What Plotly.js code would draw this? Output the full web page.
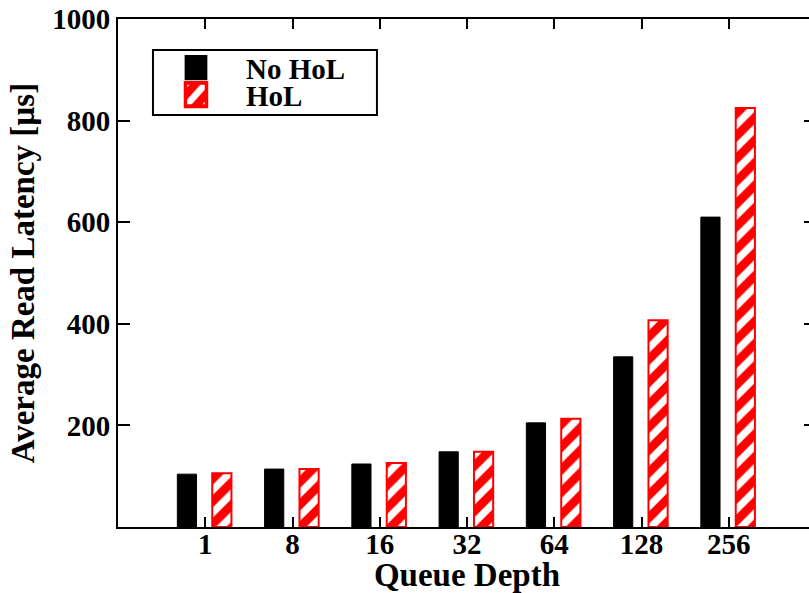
<!DOCTYPE html>
<html><head><meta charset="utf-8">
<script src="https://cdn.plot.ly/plotly-3.0.1.min.js"></script>
<style>html,body{margin:0;padding:0;overflow:hidden;background:#fff}</style>
</head><body>
<div id="chart"></div>
<script>
const categories = ["1","8","16","32","64","128","256"];
const noHoL = [104, 114, 124, 148, 205, 335, 610];
const hol   = [106, 114, 126, 148, 213, 407, 825];
const seriesNames = ["No HoL", "HoL"];
const yTicks = [0, 200, 400, 600, 800, 1000];
const yTickText = ["", "200", "400", "600", "800", "1000"];

const xPos = categories.map((c, i) => i + 1);
const fontFam = "Liberation Serif, Times New Roman, serif";

const traces = [
  {type:'bar', name: seriesNames[0], x: xPos, y: noHoL, width: 0.22, offset: -0.32, legend:'legend',
   marker:{color:'#000000', line:{color:'#000000', width:1}}},
  {type:'bar', name: seriesNames[1], x: xPos, y: hol, width: 0.22, offset: 0.08, legend:'legend2',
   marker:{color:'#ff0000', line:{color:'#ff0000', width:2},
     pattern:{shape:'/', fgcolor:'#ffffff', bgcolor:'#ff0000', fgopacity:1, size:16, solidity:0.45, fillmode:'replace'}}}
];

const axisCommon = {showline:true, linecolor:'#000', linewidth:2, mirror:'ticks',
  ticks:'inside', tickcolor:'#000', tickwidth:2, showgrid:false, zeroline:false,
  tickfont:{family:fontFam, size:29, color:'#000', weight:'bold'}};

const legFont = {family:fontFam, size:29, color:'#000', weight:'bold'};
const legCommon = {xanchor:'left', yanchor:'middle', bgcolor:'rgba(0,0,0,0)', borderwidth:0, itemwidth:90, font:legFont};

const layout = {
  width: 825, height: 593,
  margin:{l:118, r:9, t:19, b:66},
  paper_bgcolor:'#fff', plot_bgcolor:'#fff',
  showlegend:true,
  legend: Object.assign({}, legCommon, {x:0.0401, y:0.904}),
  legend2: Object.assign({}, legCommon, {x:0.0401, y:0.851}),
  shapes:[{type:'rect', xref:'paper', yref:'paper', x0:0.0501, x1:0.371, y0:0.811, y1:0.939,
    line:{color:'#000', width:2}, fillcolor:'#fff', layer:'below'}],
  xaxis: Object.assign({}, axisCommon, {range:[0,8], tickvals:xPos, ticktext:categories, ticklen:10,
    ticklabelstandoff:-10,
    title:{text:'Queue Depth', font:{family:fontFam, size:33, color:'#000', weight:'bold'}, standoff:0}}),
  yaxis: Object.assign({}, axisCommon, {range:[0,1000], tickvals:yTicks, ticktext:yTickText, ticklen:12,
    title:{text:'Average Read Latency [µs]', font:{family:fontFam, size:33, color:'#000', weight:'bold'}, standoff:8}}),
  bargap:0
};

Plotly.newPlot('chart', traces, layout, {displayModeBar:false, staticPlot:true}).then(gd => {
  document.querySelectorAll('.legendpoints path').forEach(p => {
    const t = p.getAttribute('transform') || '';
    p.setAttribute('transform', t + ' scale(1.75,1.95)');
  });
});
</script>
</body></html>
